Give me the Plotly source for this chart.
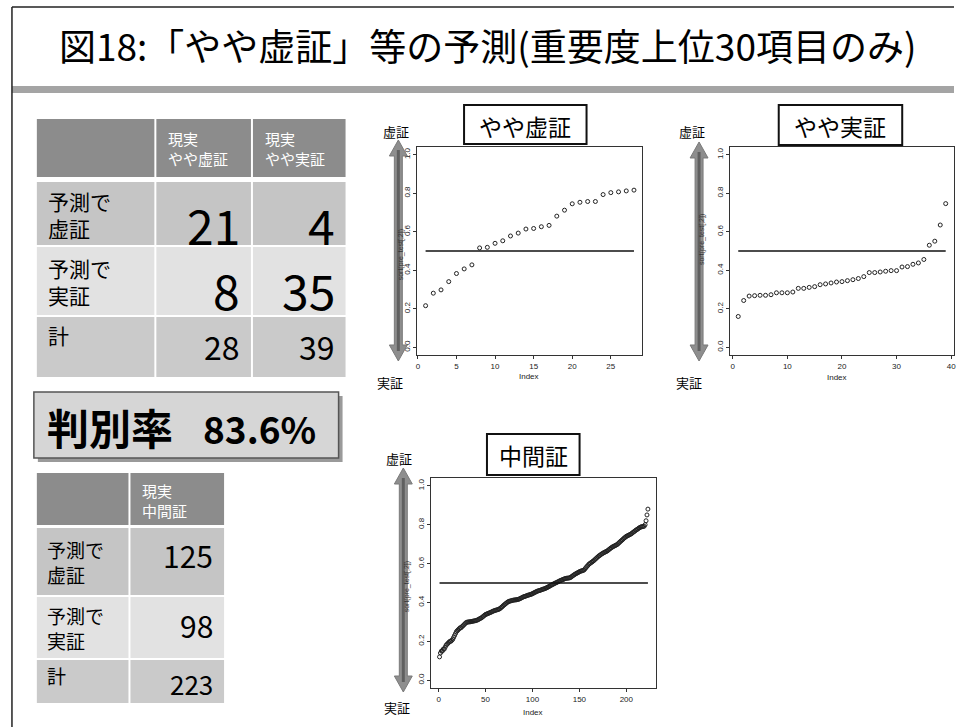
import plotly.graph_objects as go

# ---------------- data ----------------
title_text = "図18:「やや虚証」等の予測(重要度上位30項目のみ)"

t1_headers = ["現実<br>やや虚証", "現実<br>やや実証"]
row_labels = ["予測で<br>虚証", "予測で<br>実証", "計"]
t1_values = [["21", "4"], ["8", "35"], ["28", "39"]]
acc_label = "判別率"
acc_value = "83.6%"
t2_headers = ["現実<br>中間証"]
t2_values = [["125"], ["98"], ["223"]]

panel_titles = ["やや虚証", "やや実証", "中間証"]
arrow_top_label = "虚証"
arrow_bottom_label = "実証"
y_axis_title = "sort(pre_test[,2])"
x_axis_title = "Index"
threshold = 0.5
y_tickvals = [0.0, 0.2, 0.4, 0.6, 0.8, 1.0]
y_ticktext = ["0.0", "0.2", "0.4", "0.6", "0.8", "1.0"]
p1_ticks = [0, 5, 10, 15, 20, 25]
p2_ticks = [0, 10, 20, 30, 40]
p3_ticks = [0, 50, 100, 150, 200]

p1_values = [0.216, 0.281, 0.298, 0.341, 0.383, 0.407, 0.428, 0.516, 0.519, 0.540,
             0.553, 0.578, 0.593, 0.614, 0.617, 0.626, 0.633, 0.681, 0.712, 0.745,
             0.753, 0.757, 0.757, 0.793, 0.803, 0.807, 0.812, 0.816]

p2_values = [0.160, 0.243, 0.266, 0.268, 0.270, 0.270, 0.273, 0.283, 0.283, 0.283,
             0.287, 0.306, 0.306, 0.311, 0.315, 0.325, 0.329, 0.334, 0.339, 0.341,
             0.346, 0.351, 0.357, 0.367, 0.388, 0.388, 0.391, 0.395, 0.398, 0.398,
             0.417, 0.419, 0.431, 0.438, 0.456, 0.530, 0.551, 0.635, 0.746]

p3_values = [0.12, 0.14, 0.15, 0.15, 0.16, 0.16, 0.17, 0.18, 0.185, 0.19,
             0.195, 0.20, 0.20, 0.205, 0.21, 0.22, 0.23, 0.24, 0.25, 0.255,
             0.26, 0.265, 0.27, 0.27, 0.276, 0.28, 0.285, 0.29, 0.295, 0.298,
             0.299, 0.30, 0.30, 0.301, 0.302, 0.303, 0.304, 0.305, 0.306, 0.307,
             0.309, 0.311, 0.314, 0.317, 0.319, 0.322, 0.326, 0.330, 0.334, 0.338,
             0.340, 0.342, 0.344, 0.346, 0.348, 0.350, 0.353, 0.355, 0.357, 0.359,
             0.360, 0.362, 0.363, 0.365, 0.367, 0.371, 0.375, 0.379, 0.384, 0.388,
             0.392, 0.396, 0.400, 0.403, 0.406, 0.407, 0.408, 0.410, 0.411, 0.412,
             0.413, 0.413, 0.414, 0.415, 0.416, 0.418, 0.420, 0.423, 0.425, 0.428,
             0.430, 0.431, 0.433, 0.435, 0.437, 0.438, 0.440, 0.441, 0.443, 0.445,
             0.448, 0.450, 0.453, 0.455, 0.458, 0.459, 0.461, 0.462, 0.464, 0.466,
             0.468, 0.469, 0.471, 0.473, 0.475, 0.478, 0.480, 0.483, 0.486, 0.489,
             0.491, 0.494, 0.496, 0.499, 0.501, 0.503, 0.506, 0.508, 0.511, 0.513,
             0.515, 0.517, 0.519, 0.521, 0.523, 0.524, 0.525, 0.525, 0.526, 0.527,
             0.530, 0.534, 0.537, 0.541, 0.544, 0.547, 0.550, 0.552, 0.555, 0.558,
             0.560, 0.562, 0.563, 0.565, 0.567, 0.573, 0.579, 0.585, 0.590, 0.596,
             0.600, 0.603, 0.607, 0.610, 0.614, 0.618, 0.623, 0.627, 0.632, 0.636,
             0.640, 0.643, 0.647, 0.650, 0.653, 0.656, 0.658, 0.661, 0.663, 0.666,
             0.670, 0.674, 0.678, 0.681, 0.685, 0.687, 0.690, 0.692, 0.695, 0.697,
             0.701, 0.706, 0.710, 0.715, 0.719, 0.723, 0.728, 0.732, 0.736, 0.740,
             0.742, 0.745, 0.747, 0.750, 0.752, 0.756, 0.760, 0.763, 0.767, 0.771,
             0.774, 0.777, 0.781, 0.784, 0.787, 0.789, 0.790, 0.791, 0.792, 0.80,
             0.82, 0.85, 0.88]

# ---------------- helpers ----------------
W, H = 956, 727
JP = "Noto Sans CJK JP"
RF = "Liberation Sans"


def X(px):
    return px / W


def Y(py):
    return 1 - py / H


shapes = []
annotations = []


def rect(x0, y0, x1, y1, fill, line_color=None, line_width=0, layer="below"):
    shapes.append(dict(type="rect", xref="paper", yref="paper",
                       x0=X(x0), x1=X(x1), y0=Y(y1), y1=Y(y0),
                       fillcolor=fill, layer=layer,
                       line=dict(color=line_color or fill, width=line_width)))


def line(x0, y0, x1, y1, color, width, layer="above"):
    shapes.append(dict(type="line", xref="paper", yref="paper",
                       x0=X(x0), x1=X(x1), y0=Y(y0), y1=Y(y1), layer=layer,
                       line=dict(color=color, width=width)))


def text(x, y, s, size, color="black", xanchor="center", yanchor="middle",
         align="center", family=JP, angle=0):
    annotations.append(dict(xref="paper", yref="paper", x=X(x), y=Y(y), text=s,
                            showarrow=False, xanchor=xanchor, yanchor=yanchor,
                            align=align, textangle=angle,
                            font=dict(size=size, color=color, family=family)))


def arrow(cx, top, bot):
    h, hw, sw = 16, 9, 4
    pts = [(cx, top), (cx + hw, top + h), (cx + sw, top + h), (cx + sw, bot - h),
           (cx + hw, bot - h), (cx, bot), (cx - hw, bot - h), (cx - sw, bot - h),
           (cx - sw, top + h), (cx - hw, top + h)]
    path = "M " + " L ".join(f"{X(a):.5f},{Y(b):.5f}" for a, b in pts) + " Z"
    shapes.append(dict(type="path", xref="paper", yref="paper", path=path,
                       fillcolor="#8e8e8e", line=dict(color="#7a7a7a", width=1),
                       layer="above"))
    rect(cx - 1.5, top + 10, cx + 1.5, bot - 10, "#606060", layer="above")


# ---------------- page frame ----------------
line(10, 7, 10, 727, "#222222", 1.5)
line(10, 7, 956, 7, "#222222", 1.5)
rect(10, 86, 956, 93, "#a4a4a4")
text(488, 45, title_text, 37)

# ---------------- table 1 ----------------
row_fill = ["#c5c5c5", "#e2e2e2", "#cacaca"]
t1_cols = [(35, 153), (155, 250), (252, 345)]
t1_head = (119, 177)
t1_rows = [(182, 245), (247, 315), (317, 377)]
for (c0, c1) in t1_cols:
    rect(c0, t1_head[0], c1, t1_head[1], "#8c8c8c")
    for r, (r0, r1) in enumerate(t1_rows):
        rect(c0, r0, c1, r1, row_fill[r])
for j, hdr in enumerate(t1_headers):
    c0 = t1_cols[j + 1][0]
    text(c0 + 10, 148, hdr, 15, color="white", xanchor="left", align="left")
num_size1 = [48, 48, 32]
num_y1 = [224, 289, 346]
for r, lab in enumerate(row_labels):
    r0, r1 = t1_rows[r]
    if r < 2:
        text(44, (r0 + r1) / 2 + 1, lab, 21, xanchor="left", align="left")
    else:
        text(44, r0 + 18, lab, 21, xanchor="left", align="left")
    for j, v in enumerate(t1_values[r]):
        text(t1_cols[j + 1][1] - 9, num_y1[r], v, num_size1[r], xanchor="right")

# ---------------- accuracy box ----------------
rect(36, 396, 342, 462, "#9a9a9a")
rect(32, 392, 338, 458, "#d6d6d6", line_color="#555555", line_width=1.5)
text(43, 426, f"<b>{acc_label}</b>", 42, xanchor="left")
text(200, 428, f"<b>{acc_value}</b>", 37, xanchor="left")

# ---------------- table 2 ----------------
t2_cols = [(35, 127), (129, 223)]
t2_head = (473, 525)
t2_rows = [(528, 595), (597, 658), (660, 703)]
for (c0, c1) in t2_cols:
    rect(c0, t2_head[0], c1, t2_head[1], "#8c8c8c")
    for r, (r0, r1) in enumerate(t2_rows):
        rect(c0, r0, c1, r1, row_fill[r])
text(t2_cols[1][0] + 10, 500, t2_headers[0], 15, color="white", xanchor="left", align="left")
num_size2 = [30, 30, 26]
num_y2 = [555, 625, 683]
for r, lab in enumerate(row_labels):
    r0, r1 = t2_rows[r]
    if r < 2:
        text(43, (r0 + r1) / 2, lab, 19, xanchor="left", align="left")
    else:
        text(43, r0 + 15, lab, 19, xanchor="left", align="left")
    text(t2_cols[1][1] - 9, num_y2[r], t2_values[r][0], num_size2[r], xanchor="right")

# ---------------- scatter panels ----------------
fig = go.Figure()
panels = [
    dict(vals=p1_values, ticks=p1_ticks, box=(417, 147, 643, 355), xr=(-0.08, 29.08),
         tbox=(464, 105, 587, 144), arrow=(398, 140, 361), lab=(396, 131, 390, 382),
         ylab=(401, 255), xlab=(529, 376)),
    dict(vals=p2_values, ticks=p2_ticks, box=(731, 147, 956, 355), xr=(-0.52, 40.52),
         tbox=(780, 105, 904, 145), arrow=(700, 142, 361), lab=(693, 131, 690, 382),
         ylab=(703, 240), xlab=(839, 377)),
    dict(vals=p3_values, ticks=p3_ticks, box=(431, 478, 657, 688), xr=(-7.88, 231.88),
         tbox=(487, 434, 580, 475), arrow=(403, 468, 692), lab=(399, 458, 397, 707),
         ylab=(407, 587), xlab=(533, 712)),
]
for k, p in enumerate(panels):
    n = len(p["vals"])
    idx = list(range(1, n + 1))
    xa = "x" if k == 0 else f"x{k+1}"
    ya = "y" if k == 0 else f"y{k+1}"
    fig.add_trace(go.Scatter(x=idx, y=p["vals"], mode="markers", xaxis=xa, yaxis=ya,
                             marker=dict(symbol="circle-open", size=4, color="#222222",
                                         line=dict(width=1, color="#222222")),
                             showlegend=False, hoverinfo="skip"))
    fig.add_trace(go.Scatter(x=[1, n], y=[threshold, threshold], mode="lines",
                             xaxis=xa, yaxis=ya, line=dict(color="#111111", width=1.5),
                             showlegend=False, hoverinfo="skip"))
    x0, y0, x1, y1 = p["box"]
    axcommon = dict(showgrid=False, zeroline=False, showline=True, mirror=True,
                    linecolor="#333333", linewidth=1, ticks="outside", ticklen=3,
                    tickcolor="#333333", tickfont=dict(size=8, family=RF, color="#222222"),
                    ticklabeloverflow="allow")
    xkey = "xaxis" if k == 0 else f"xaxis{k+1}"
    ykey = "yaxis" if k == 0 else f"yaxis{k+1}"
    fig.update_layout(**{
        xkey: dict(domain=[X(x0), min(X(x1), 1.0)], range=list(p["xr"]), anchor=ya,
                   tickvals=p["ticks"], **axcommon),
        ykey: dict(domain=[Y(y1), Y(y0)], range=[-0.04, 1.04], anchor=xa,
                   tickvals=y_tickvals, ticktext=y_ticktext, tickangle=-90, **axcommon),
    })
    # panel title box
    bx0, by0, bx1, by1 = p["tbox"]
    rect(bx0, by0, bx1, by1, "white", line_color="#111111", line_width=2, layer="above")
    text((bx0 + bx1) / 2, (by0 + by1) / 2 + 1, panel_titles[k], 23)
    # arrow and labels
    ax, at, ab = p["arrow"]
    arrow(ax, at, ab)
    tx, ty, bx, byy = p["lab"]
    text(tx, ty, arrow_top_label, 13)
    text(bx, byy, arrow_bottom_label, 13)
    text(p["ylab"][0], p["ylab"][1], y_axis_title, 7, family=RF, color="#333333", angle=-90)
    text(p["xlab"][0], p["xlab"][1], x_axis_title, 8, family=RF, color="#222222")

fig.update_layout(width=W, height=H, margin=dict(l=0, r=0, t=0, b=0),
                  paper_bgcolor="white", plot_bgcolor="white",
                  shapes=shapes, annotations=annotations, showlegend=False)
fig.write_html("out.html", config={"displayModeBar": False},
               post_script="document.body.style.margin='0';document.body.style.overflow='hidden';")
